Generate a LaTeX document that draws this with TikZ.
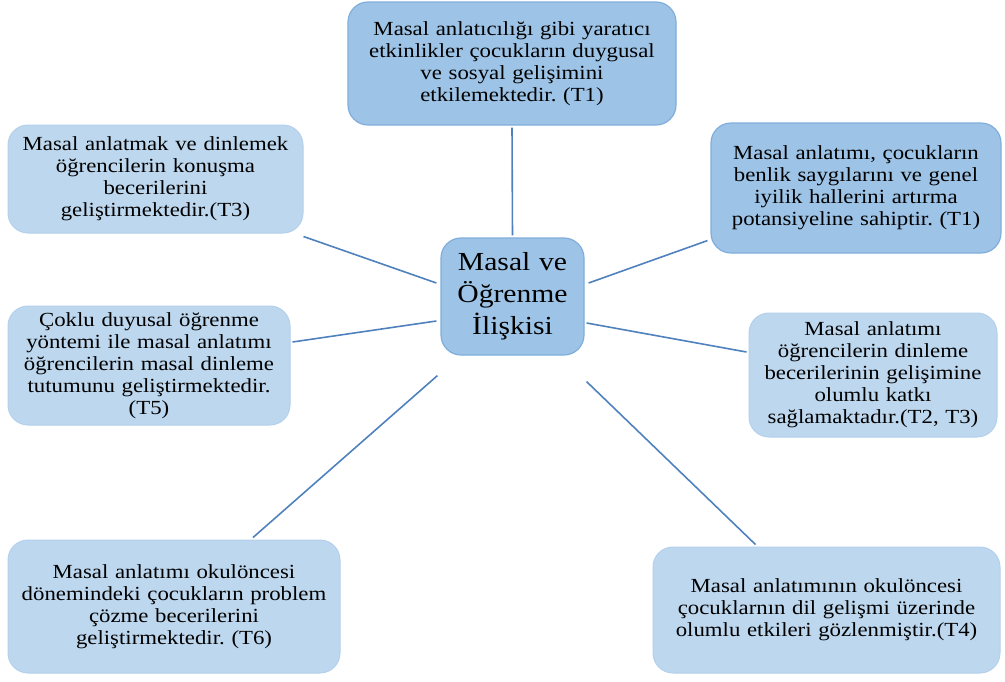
\documentclass[tikz,border=0pt]{standalone}
\usepackage{fontspec}
\setmainfont[FakeStretch=1.14]{Liberation Serif}
\usetikzlibrary{positioning}
\definecolor{boxdark}{HTML}{9DC3E6}
\definecolor{boxlight}{HTML}{BDD7EE}
\definecolor{rimdark}{HTML}{7FAEDC}
\definecolor{rimlight}{HTML}{B3D0EC}
\definecolor{link}{HTML}{4F81BD}
\tikzset{%
  dark/.style={rectangle,rounded corners=20pt,fill=boxdark,draw=rimdark,line width=1.2pt,align=center,inner sep=2pt},
  light/.style={rectangle,rounded corners=20pt,fill=boxlight,draw=rimlight,line width=1pt,align=center,inner sep=2pt},
  txt/.style={font=\fontsize{20}{22}\selectfont},
  big/.style={font=\fontsize{26}{32}\selectfont},
  edge/.style={draw=link,line width=1.6pt}
}

\begin{document}
\frenchspacing
\begin{tikzpicture}[x=1pt,y=-1pt]
  \useasboundingbox (0,0) rectangle (1005,681);

  \node [dark,txt,minimum width=328pt,minimum height=123pt,text width=310pt] (t1a) at (512,63.5)
    {Masal anlatıcılığı gibi yaratıcı\\etkinlikler çocukların duygusal\\ve sosyal gelişimini\\etkilemektedir. (T1)};
  \node [dark,txt,minimum width=290pt,minimum height=130pt,text width=280pt] (t1b) at (856,188)
    {Masal anlatımı, çocukların\\benlik saygılarını ve genel\\iyilik hallerini artırma\\potansiyeline sahiptir. (T1)};
  \node [light,txt,minimum width=295pt,minimum height=108pt,text width=285pt] (t3) at (155.5,179)
    {Masal anlatmak ve dinlemek\\öğrencilerin konuşma\\becerilerini\\geliştirmektedir.(T3)};
  \node [dark,big,minimum width=143pt,minimum height=117pt,text width=138pt] (ctr) at (512.5,296.5)
    {Masal ve\\Öğrenme\\İlişkisi};
  \node [light,txt,minimum width=282pt,minimum height=119pt,text width=275pt] (t5) at (149,365.5)
    {Çoklu duyusal öğrenme\\yöntemi ile masal anlatımı\\öğrencilerin masal dinleme\\tutumunu geliştirmektedir.\\(T5)};
  \node [light,txt,minimum width=248pt,minimum height=124pt,text width=242pt] (t2) at (873,375)
    {Masal anlatımı\\öğrencilerin dinleme\\becerilerinin gelişimine\\olumlu katkı\\sağlamaktadır.(T2, T3)};
  \node [light,txt,minimum width=332pt,minimum height=133pt,text width=322pt] (t6) at (174,606.5)
    {Masal anlatımı okulöncesi\\dönemindeki çocukların problem\\çözme becerilerini\\geliştirmektedir. (T6)};
  \node [light,txt,minimum width=347pt,minimum height=126pt,text width=335pt] (t4) at (826.5,610)
    {Masal anlatımının okulöncesi\\çocuklarnın dil gelişmi üzerinde\\olumlu etkileri gözlenmiştir.(T4)};

  \draw [edge,shorten <=2pt,shorten >=2pt] (ctr.north) -- (t1a.south);
  \draw [edge] ([yshift=-3pt]t3.south east) -- ([xshift=-4pt,yshift=13.5pt]ctr.west);
  \draw [edge] ([xshift=4pt,yshift=13.5pt]ctr.east) -- ([xshift=-3pt,yshift=13pt]t1b.south west);
  \draw [edge] ([xshift=2pt,yshift=23.5pt]t5.east) -- ([xshift=-4pt,yshift=-24.5pt]ctr.west);
  \draw [edge] ([xshift=2pt,yshift=-26.5pt]ctr.east) -- ([xshift=-2pt,yshift=23pt]t2.west);
  \draw [edge] ([xshift=79pt,yshift=2pt]t6.north) -- ([xshift=-3pt,yshift=-20pt]ctr.south west);
  \draw [edge] ([xshift=2pt,yshift=-26pt]ctr.south east) -- ([xshift=103pt,yshift=2pt]t4.north west);
\end{tikzpicture}
\end{document}
